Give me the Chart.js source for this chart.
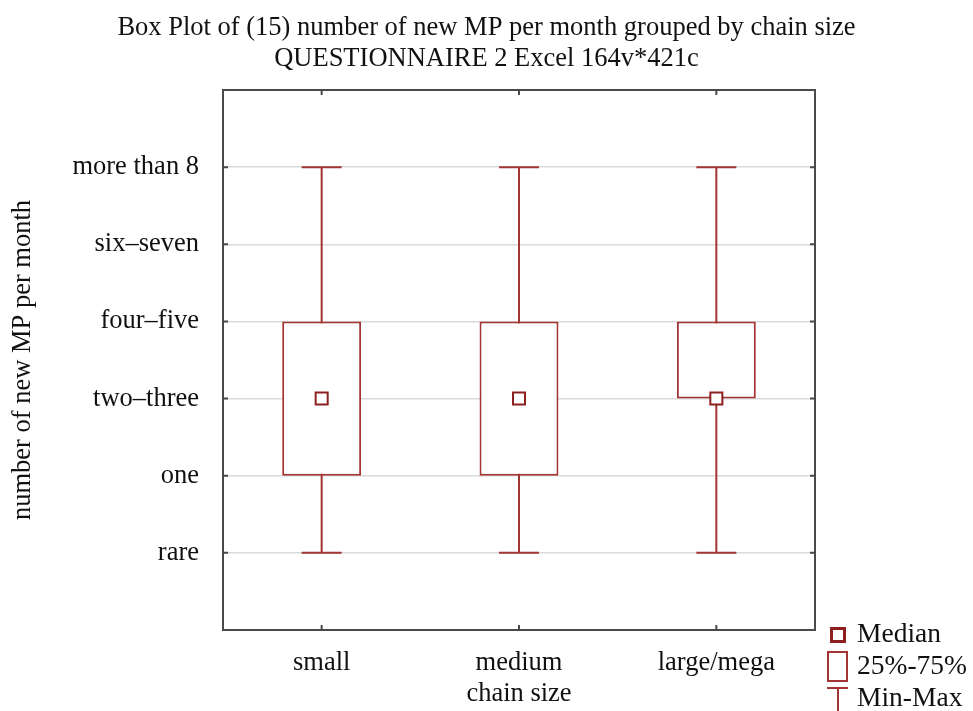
<!DOCTYPE html>
<html>
<head>
<meta charset="utf-8">
<script src="https://cdn.jsdelivr.net/npm/chart.js@4/dist/chart.umd.min.js"></script>
<style>
  html, body { margin: 0; padding: 0; background: #fff; }
  #wrap { position: relative; width: 973px; height: 711px; }
  #legend { position: absolute; left: 826px; top: 617px; font-family: 'Liberation Serif', 'Times New Roman', serif; font-size: 27.5px; color: #111; }
  .lg-row { position: relative; height: 32px; line-height: 32px; padding-left: 31px; }
  .ic-med { position: absolute; left: 4px; top: 10px; width: 10px; height: 10px; border: 3px solid #8e1f1f; }
  .ic-box { position: absolute; left: 1px; top: 2px; width: 17px; height: 27px; border: 2px solid #a23434; }
  .ic-mm  { position: absolute; left: 1px; top: 6px; width: 21px; height: 24px; }
  .ic-mm::before { content: ''; position: absolute; left: 0; top: 0; width: 21px; height: 2px; background: #a23434; }
  .ic-mm::after  { content: ''; position: absolute; left: 9.5px; top: 0; width: 2px; height: 24px; background: #a23434; }
</style>
</head>
<body>
<div id="wrap">
  <canvas id="chart" width="973" height="711"></canvas>
  <div id="legend">
    <div class="lg-row"><span class="ic-med"></span>Median</div>
    <div class="lg-row"><span class="ic-box"></span>25%-75%</div>
    <div class="lg-row"><span class="ic-mm"></span>Min-Max</div>
  </div>
</div>
<script>
// ── Data ──────────────────────────────────────────────────────────────────
const categories = ['small', ['medium', 'chain size'], 'large/mega'];
const yLabels    = ['rare', 'one', 'two\u2013three', 'four\u2013five', 'six\u2013seven', 'more than 8'];
const minVals    = [0, 0, 0];
const q1Vals     = [1, 1, 2];
const medianVals = [2, 2, 2];
const q3Vals     = [3, 3, 3];
const maxVals    = [5, 5, 5];

const RED    = '#a23434';
const RED_DK = '#8e1f1f';
const FRAME  = '#4a4a4a';
const FONT   = "'Liberation Serif', 'Times New Roman', serif";
const FSIZE  = 26.5;

// ── Whiskers + frame + inner ticks ────────────────────────────────────────
const boxPlugin = {
  id: 'boxExtras',
  beforeDatasetsDraw(chart) {
    const { ctx } = chart;
    const xs = chart.scales.x, ys = chart.scales.y;
    const cap = 20;
    ctx.save();
    ctx.strokeStyle = RED;
    ctx.lineWidth = 2;
    minVals.forEach((mn, i) => {
      const x  = xs.getPixelForValue(i);
      const y0 = ys.getPixelForValue(mn);
      const y1 = ys.getPixelForValue(maxVals[i]);
      ctx.beginPath();
      ctx.moveTo(x, y0); ctx.lineTo(x, y1);
      ctx.moveTo(x - cap, y0); ctx.lineTo(x + cap, y0);
      ctx.moveTo(x - cap, y1); ctx.lineTo(x + cap, y1);
      ctx.stroke();
    });
    ctx.restore();
  },
  afterDraw(chart) {
    const { ctx, chartArea: a } = chart;
    const xs = chart.scales.x, ys = chart.scales.y;
    ctx.save();
    ctx.strokeStyle = FRAME;
    ctx.lineWidth = 2;
    ctx.strokeRect(a.left, a.top, a.right - a.left, a.bottom - a.top);
    ctx.beginPath();
    yLabels.forEach((_, v) => {
      const y = ys.getPixelForValue(v);
      ctx.moveTo(a.left, y);  ctx.lineTo(a.left + 5, y);
      ctx.moveTo(a.right, y); ctx.lineTo(a.right - 5, y);
    });
    categories.forEach((_, i) => {
      const x = xs.getPixelForValue(i);
      ctx.moveTo(x, a.top);    ctx.lineTo(x, a.top + 5);
      ctx.moveTo(x, a.bottom); ctx.lineTo(x, a.bottom - 5);
    });
    ctx.stroke();
    ctx.restore();
  },
};

// ── Chart ─────────────────────────────────────────────────────────────────
new Chart(document.getElementById('chart').getContext('2d'), {
  type: 'bar',
  data: {
    labels: categories,
    datasets: [
      {
        type: 'line',
        label: 'Median',
        data: medianVals,
        showLine: false,
        pointStyle: 'rect',
        pointRadius: 8.5,
        pointHoverRadius: 8.5,
        pointBorderWidth: 2,
        pointBorderColor: RED_DK,
        pointBackgroundColor: '#fff',
        order: 0,
      },
      {
        label: '25%-75%',
        data: q1Vals.map((q, i) => [q, q3Vals[i]]),
        backgroundColor: '#fff',
        borderColor: RED,
        borderWidth: 2,
        borderSkipped: false,
        categoryPercentage: 1,
        barPercentage: 0.4,
        order: 1,
      },
    ],
  },
  options: {
    responsive: false,
    animation: false,
    events: [],
    layout: { padding: 0 },
    plugins: {
      legend: { display: false },
      tooltip: { enabled: false },
      title: {
        display: true,
        text: ['Box Plot of (15) number of new MP per month grouped by chain size',
               'QUESTIONNAIRE 2 Excel 164v*421c'],
        color: '#111',
        font: { family: FONT, size: FSIZE, weight: 'normal', lineHeight: '31px' },
        padding: { top: 13, bottom: 15 },
      },
    },
    scales: {
      x: {
        offset: true,
        grid: { display: false, drawTicks: false },
        border: { display: false },
        ticks: { color: '#111', font: { family: FONT, size: FSIZE, lineHeight: 1.15 }, padding: 18, maxRotation: 0 },
        afterFit(s) { s.height = 81; },
      },
      y: {
        min: -1,
        max: 6,
        afterBuildTicks(s) { s.ticks = yLabels.map((_, v) => ({ value: v })); },
        grid: { color: '#dadada', lineWidth: 1.5, drawTicks: false },
        border: { display: false },
        ticks: {
          color: '#111',
          font: { family: FONT, size: FSIZE },
          padding: 24,
          callback: v => yLabels[v] ?? '',
        },
        title: {
          display: true,
          text: 'number of new MP per month',
          color: '#111',
          font: { family: FONT, size: FSIZE },
          padding: { top: 7, bottom: 0 },
        },
        afterFit(s) { s.width = 223; },
      },
      // empty right-hand strip that holds the legend column
      y2: {
        position: 'right',
        display: true,
        grid: { display: false, drawTicks: false },
        border: { display: false },
        ticks: { display: false },
        afterFit(s) { s.width = 158; },
      },
    },
  },
  plugins: [boxPlugin],
});
</script>
</body>
</html>
